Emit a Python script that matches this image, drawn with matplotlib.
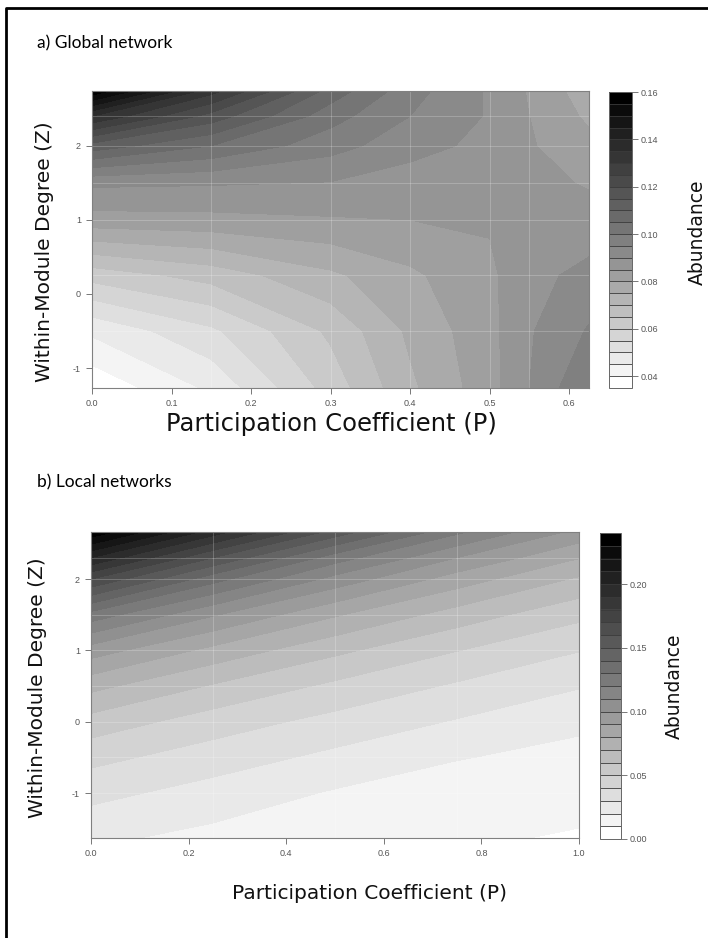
import numpy as np
import matplotlib
matplotlib.use("Agg")
import matplotlib.pyplot as plt
from matplotlib.colors import ListedColormap, BoundaryNorm
from matplotlib.lines import Line2D

# a) global network: abundance read off the grey bands (rows = glob_z, cols = glob_p)
glob_p = [0.0, 0.15, 0.3, 0.4, 0.5, 0.55, 0.625]
glob_z = [-1.27, -0.5, 0.25, 1.0, 1.5, 2.0, 2.4, 2.74]
glob_abund = [
    [0.036, 0.046, 0.062, 0.074, 0.083, 0.090, 0.100],
    [0.046, 0.054, 0.066, 0.076, 0.0835, 0.0895, 0.0955],
    [0.062, 0.067, 0.074, 0.079, 0.084, 0.0885, 0.0915],
    [0.083, 0.0835, 0.0845, 0.085, 0.0855, 0.0875, 0.087],
    [0.091, 0.0905, 0.0898, 0.0875, 0.087, 0.0865, 0.0845],
    [0.113, 0.105, 0.097, 0.092, 0.0885, 0.0855, 0.0815],
    [0.135, 0.118, 0.102, 0.095, 0.0895, 0.085, 0.079],
    [0.159, 0.132, 0.108, 0.097, 0.0893, 0.0845, 0.077],
]
glob_xticks = [0.0, 0.1, 0.2, 0.3, 0.4, 0.5, 0.6]
glob_cticks = [0.04, 0.06, 0.08, 0.10, 0.12, 0.14, 0.16]

# b) local networks
loc_p = [0.0, 0.25, 0.5, 0.75, 1.0]
loc_z = [-1.63, -1.0, -0.5, 0.0, 0.5, 1.0, 1.5, 2.0, 2.3, 2.66]
loc_abund = [
    [0.022, 0.017, 0.014, 0.0115, 0.009],
    [0.033, 0.026, 0.019, 0.015, 0.0135],
    [0.043, 0.035, 0.0275, 0.0205, 0.017],
    [0.056, 0.045, 0.0367, 0.0292, 0.022],
    [0.073, 0.059, 0.0478, 0.0386, 0.0307],
    [0.095, 0.077, 0.0623, 0.0503, 0.0404],
    [0.126, 0.101, 0.0811, 0.0655, 0.0526],
    [0.170, 0.134, 0.1065, 0.0853, 0.0686],
    [0.200, 0.160, 0.125, 0.100, 0.0805],
    [0.238, 0.195, 0.156, 0.122, 0.0969],
]
loc_xticks = [0.0, 0.2, 0.4, 0.6, 0.8, 1.0]
loc_cticks = [0.00, 0.05, 0.10, 0.15, 0.20]

zticks = [-1, 0, 1, 2]

W, H = 708, 938
fig = plt.figure(figsize=(W / 100, H / 100), dpi=100)

def box(l, t, r, b):
    return [l / W, 1 - b / H, (r - l) / W, (b - t) / H]

tick_font = ["Liberation Sans Narrow", "Liberation Sans", "DejaVu Sans"]


def panel(ax, cax, p, z, v, levels, xticks, cticks, xfmt, cfmt):
    nb = len(levels) - 1
    cmap = ListedColormap([str(g) for g in np.linspace(1, 0, nb)])
    norm = BoundaryNorm(levels, nb)
    cs = ax.contourf(p, z, np.array(v), levels=levels, cmap=cmap, norm=norm)
    # faint seams like the R device leaves on grid cells
    ax.vlines(p[1:-1], z[0], z[-1], color="white", alpha=0.22, lw=0.7)
    ax.hlines(z[1:-1], p[0], p[-1], color="white", alpha=0.22, lw=0.7)
    ax.set_xlim(p[0], p[-1])
    ax.set_ylim(z[0], z[-1])
    ax.set_xticks(xticks)
    ax.set_xticklabels([xfmt % t for t in xticks])
    ax.set_yticks(zticks)
    ax.set_yticklabels([str(t) for t in zticks])
    for s in ax.spines.values():
        s.set_color("#808080")
        s.set_linewidth(0.8)
    ax.tick_params(direction="out", length=4, width=0.7, color="#777777",
                   labelcolor="#555555", labelsize=6.5, pad=4)
    for lab in ax.get_xticklabels() + ax.get_yticklabels():
        lab.set_family(tick_font)

    cb = fig.colorbar(cs, cax=cax, drawedges=True, ticks=cticks)
    cb.minorticks_off()
    cb.dividers.set_color("#3a3a3a")
    cb.dividers.set_linewidth(0.6)
    cb.outline.set_edgecolor("#666666")
    cb.outline.set_linewidth(0.7)
    cb.ax.set_yticklabels([cfmt % t for t in cticks])
    cb.ax.tick_params(which="both", direction="out", length=4, width=0.7, color="#777777",
                      labelcolor="#555555", labelsize=6.5, pad=2)
    cb.ax.tick_params(which="minor", length=0)
    for lab in cb.ax.get_yticklabels():
        lab.set_family(tick_font)


ax1 = fig.add_axes(box(92, 91, 589, 388))
cax1 = fig.add_axes(box(609, 92, 632, 388))
panel(ax1, cax1, glob_p, glob_z, glob_abund, np.linspace(0.035, 0.16, 26),
      glob_xticks, glob_cticks, "%.1f", "%.2f")

ax2 = fig.add_axes(box(91, 532, 579, 838))
cax2 = fig.add_axes(box(600, 533, 621, 839))
panel(ax2, cax2, loc_p, loc_z, loc_abund, np.linspace(0.0, 0.24, 25),
      loc_xticks, loc_cticks, "%.1f", "%.2f")

def ftext(x, y, s, **kw):
    fig.text(x / W, 1 - y / H, s, **kw)

title_font = ["Lato", "DejaVu Sans"]
ftext(37, 43, "a) Global network", fontsize=12.5, family=title_font, va="center", ha="left")
ftext(37, 482, "b) Local networks", fontsize=12.5, family=title_font, va="center", ha="left")

ftext(331, 424, "Participation Coefficient (P)", fontsize=17.5, ha="center", va="center", color="#111111")
ftext(369, 893, "Participation Coefficient (P)", fontsize=14.5, ha="center", va="center", color="#111111")
ftext(45, 252, "Within-Module Degree (Z)", fontsize=14.5, rotation=90, ha="center", va="center", color="#111111")
ftext(38, 688, "Within-Module Degree (Z)", fontsize=14.5, rotation=90, ha="center", va="center", color="#111111")
ftext(697, 232, "Abundance", fontsize=13.5, rotation=90, ha="center", va="center", color="#111111")
ftext(674, 686, "Abundance", fontsize=13.5, rotation=90, ha="center", va="center", color="#111111")

# black frame on the left and top of the screenshot
fig.add_artist(Line2D([6 / W, 6 / W, 1.0], [0.0, 1 - 8 / H, 1 - 8 / H],
                      transform=fig.transFigure, color="black", lw=2))

fig.savefig("out.png", dpi=100)
